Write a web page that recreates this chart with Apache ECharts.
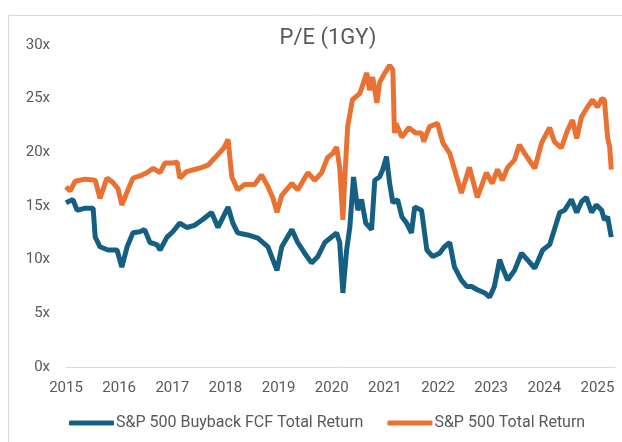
<!DOCTYPE html>
<html>
<head>
<meta charset="utf-8">
<script src="https://cdn.jsdelivr.net/npm/echarts@6/dist/echarts.min.js"></script>
<style>
  html, body { margin: 0; padding: 0; background: #fff; }
  #chart { width: 622px; height: 442px; }
</style>
</head>
<body>
<div id="chart"></div>
<script>
// decimal years + forward P/E
const buybackYears = [2015.00, 2015.13, 2015.21, 2015.36, 2015.51, 2015.55, 2015.64, 2015.79, 2015.96, 2016.05,
  2016.15, 2016.26, 2016.39, 2016.48, 2016.58, 2016.71, 2016.77, 2016.90, 2017.01, 2017.14,
  2017.27, 2017.42, 2017.56, 2017.74, 2017.86, 2018.05, 2018.14, 2018.23, 2018.42, 2018.61,
  2018.80, 2018.97, 2019.06, 2019.25, 2019.36, 2019.49, 2019.62, 2019.74, 2019.87, 2020.02,
  2020.09, 2020.15, 2020.21, 2020.28, 2020.34, 2020.41, 2020.49, 2020.56, 2020.64, 2020.75,
  2020.81, 2020.90, 2020.96, 2021.03, 2021.09, 2021.15, 2021.24, 2021.32, 2021.41, 2021.50,
  2021.56, 2021.69, 2021.79, 2021.90, 2022.03, 2022.12, 2022.22, 2022.31, 2022.44, 2022.54,
  2022.63, 2022.74, 2022.88, 2022.97, 2023.06, 2023.16, 2023.21, 2023.31, 2023.44, 2023.57,
  2023.68, 2023.82, 2023.97, 2024.10, 2024.19, 2024.29, 2024.38, 2024.51, 2024.61, 2024.70,
  2024.79, 2024.89, 2024.98, 2025.08, 2025.13, 2025.19, 2025.26];
const buybackPE = [15.3, 15.6, 14.6, 14.8, 14.8, 12.1, 11.2, 10.9, 10.9, 9.3,
  11.2, 12.5, 12.6, 12.8, 11.6, 11.4, 10.9, 12.1, 12.6, 13.4,
  13.0, 13.2, 13.7, 14.4, 13.0, 14.9, 13.4, 12.5, 12.3, 12.0,
  11.2, 9.0, 11.2, 12.8, 11.6, 10.6, 9.7, 10.3, 11.6, 12.2,
  12.5, 11.6, 6.9, 10.9, 13.0, 17.7, 14.6, 15.6, 13.4, 12.8,
  17.4, 17.7, 18.4, 19.6, 17.1, 15.3, 15.6, 14.0, 13.4, 12.5,
  14.9, 14.6, 10.9, 10.3, 10.6, 11.2, 11.6, 9.3, 8.1, 7.5,
  7.5, 7.2, 6.9, 6.5, 7.5, 10.0, 9.3, 8.1, 9.0, 10.6,
  10.0, 9.2, 10.9, 11.4, 12.8, 14.4, 14.6, 15.6, 14.4, 15.4,
  15.8, 14.4, 15.1, 14.6, 13.7, 14.0, 12.1];

const totalYears = [2015.00, 2015.08, 2015.17, 2015.36, 2015.55, 2015.64, 2015.77, 2015.88, 2015.98, 2016.05,
  2016.15, 2016.26, 2016.39, 2016.52, 2016.64, 2016.77, 2016.86, 2017.01, 2017.09, 2017.14,
  2017.27, 2017.42, 2017.56, 2017.67, 2017.86, 2017.97, 2018.05, 2018.12, 2018.23, 2018.36,
  2018.55, 2018.68, 2018.80, 2018.89, 2018.97, 2019.06, 2019.25, 2019.36, 2019.55, 2019.68,
  2019.81, 2019.92, 2020.02, 2020.09, 2020.15, 2020.21, 2020.24, 2020.30, 2020.39, 2020.53,
  2020.66, 2020.71, 2020.77, 2020.85, 2020.90, 2021.00, 2021.09, 2021.15, 2021.18, 2021.21,
  2021.32, 2021.45, 2021.58, 2021.69, 2021.73, 2021.84, 2021.99, 2022.09, 2022.22, 2022.31,
  2022.44, 2022.59, 2022.74, 2022.91, 2023.02, 2023.12, 2023.21, 2023.31, 2023.44, 2023.53,
  2023.67, 2023.82, 2023.95, 2024.10, 2024.19, 2024.32, 2024.44, 2024.53, 2024.61, 2024.70,
  2024.81, 2024.91, 2025.00, 2025.08, 2025.13, 2025.19, 2025.23, 2025.26];
const totalPE = [16.8, 16.4, 17.3, 17.5, 17.4, 15.7, 17.6, 17.2, 16.6, 15.1,
  16.3, 17.6, 17.8, 18.1, 18.5, 18.1, 19.0, 19.0, 19.1, 17.6,
  18.2, 18.4, 18.6, 18.8, 19.8, 20.4, 21.2, 17.7, 16.5, 17.0,
  17.0, 17.9, 16.8, 15.8, 14.4, 16.0, 17.1, 16.5, 18.1, 17.4,
  18.1, 19.5, 19.9, 20.5, 18.6, 13.7, 17.1, 22.4, 24.9, 25.5,
  27.4, 25.8, 27.0, 24.6, 26.5, 27.4, 28.1, 27.7, 21.8, 22.7,
  21.4, 22.3, 21.8, 21.8, 21.0, 22.4, 22.7, 20.9, 19.9, 18.4,
  16.2, 18.6, 15.8, 18.1, 17.1, 18.4, 17.4, 18.6, 19.3, 20.7,
  19.6, 18.5, 20.9, 22.3, 21.0, 20.4, 22.1, 23.0, 21.3, 23.3,
  24.2, 24.9, 24.2, 25.0, 24.9, 21.4, 20.5, 18.4];

const seriesNames = ['S&P 500 Buyback FCF Total Return', 'S&P 500 Total Return'];
const yearTicks = [2015, 2016, 2017, 2018, 2019, 2020, 2021, 2022, 2023, 2024, 2025];

const zip = (xs, ys) => xs.map((x, i) => [x, ys[i]]);

const font = 'Roboto, sans-serif';
const chart = echarts.init(document.getElementById('chart'));
chart.setOption({
  animation: false,
  backgroundColor: '#fff',
  graphic: [{
    type: 'rect',
    shape: { x: 8.5, y: 15.5, width: 630, height: 440 },
    style: { fill: 'none', stroke: '#d9d9d9', lineWidth: 1 },
    silent: true
  }],
  title: {
    text: 'P/E (1GY)',
    left: 323,
    top: 22,
    textAlign: 'center',
    textStyle: { fontFamily: font, fontSize: 22, fontWeight: 'normal', color: '#595959' }
  },
  grid: { left: 66, right: 7, top: 45, bottom: 75 },
  xAxis: {
    type: 'value',
    min: 2015,
    max: 2025.33,
    interval: 1,
    axisLine: { lineStyle: { color: '#d9d9d9', width: 1 } },
    axisTick: { show: false },
    splitLine: { show: false },
    axisLabel: {
      margin: 14,
      color: '#595959',
      fontFamily: font,
      fontSize: 15,
      showMaxLabel: false,
      formatter: v => (yearTicks.indexOf(v) >= 0 ? String(v) : '')
    }
  },
  yAxis: {
    type: 'value',
    min: 0,
    max: 30,
    interval: 5,
    axisLine: { show: false },
    axisTick: { show: false },
    splitLine: { show: false },
    axisLabel: { margin: 16, color: '#595959', fontFamily: font, fontSize: 15, formatter: '{value}x' }
  },
  legend: {
    bottom: 6,
    left: 64,
    icon: 'roundRect',
    itemWidth: 45,
    itemHeight: 5,
    itemGap: 24,
    textStyle: { color: '#595959', fontFamily: font, fontSize: 16, padding: [0, 0, 0, -3] },
    data: seriesNames
  },
  series: [
    {
      name: seriesNames[0],
      type: 'line',
      data: zip(buybackYears, buybackPE),
      showSymbol: false,
      color: '#156082',
      lineStyle: { width: 5, color: '#156082' }
    },
    {
      name: seriesNames[1],
      type: 'line',
      data: zip(totalYears, totalPE),
      showSymbol: false,
      color: '#e97132',
      lineStyle: { width: 5, color: '#e97132' }
    }
  ]
});
</script>
</body>
</html>
